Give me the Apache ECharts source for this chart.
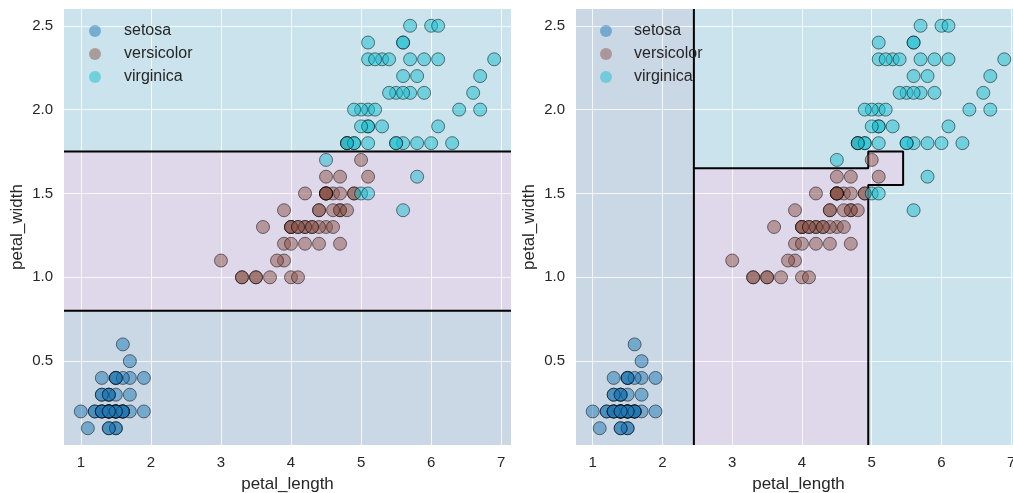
<!DOCTYPE html>
<html>
<head>
<meta charset="utf-8">
<script src="https://cdn.jsdelivr.net/npm/echarts@6/dist/echarts.min.js"></script>
<style>
html,body{margin:0;padding:0;background:#fff;}
#chart{width:1013px;height:493px;}
</style>
</head>
<body>
<div id="chart"></div>
<script>
// ---- data (iris: petal_length, petal_width) ----
var species = ['setosa', 'versicolor', 'virginica'];
var setosaLength = [1.4,1.4,1.3,1.5,1.4,1.7,1.4,1.5,1.4,1.5,1.5,1.6,1.4,1.1,1.2,1.5,1.3,1.4,1.7,1.5,1.7,1.5,1.0,1.7,1.9,1.6,1.6,1.5,1.4,1.6,1.6,1.5,1.5,1.4,1.5,1.2,1.3,1.4,1.3,1.5,1.3,1.3,1.3,1.6,1.9,1.4,1.6,1.4,1.5,1.4];
var setosaWidth  = [0.2,0.2,0.2,0.2,0.2,0.4,0.3,0.2,0.2,0.1,0.2,0.2,0.1,0.1,0.2,0.4,0.4,0.3,0.3,0.3,0.2,0.4,0.2,0.5,0.2,0.2,0.4,0.2,0.2,0.2,0.2,0.4,0.1,0.2,0.2,0.2,0.2,0.1,0.2,0.2,0.3,0.3,0.2,0.6,0.4,0.3,0.2,0.2,0.2,0.2];
var versicolorLength = [4.7,4.5,4.9,4.0,4.6,4.5,4.7,3.3,4.6,3.9,3.5,4.2,4.0,4.7,3.6,4.4,4.5,4.1,4.5,3.9,4.8,4.0,4.9,4.7,4.3,4.4,4.8,5.0,4.5,3.5,3.8,3.7,3.9,5.1,4.5,4.5,4.7,4.4,4.1,4.0,4.4,4.6,4.0,3.3,4.2,4.2,4.2,4.3,3.0,4.1];
var versicolorWidth  = [1.4,1.5,1.5,1.3,1.5,1.3,1.6,1.0,1.3,1.4,1.0,1.5,1.0,1.4,1.3,1.4,1.5,1.0,1.5,1.1,1.8,1.3,1.5,1.2,1.3,1.4,1.4,1.7,1.5,1.0,1.1,1.0,1.2,1.6,1.5,1.6,1.5,1.3,1.3,1.3,1.2,1.4,1.2,1.0,1.3,1.2,1.3,1.3,1.1,1.3];
var virginicaLength = [6.0,5.1,5.9,5.6,5.8,6.6,4.5,6.3,5.8,6.1,5.1,5.3,5.5,5.0,5.1,5.3,5.5,6.7,6.9,5.0,5.7,4.9,6.7,4.9,5.7,6.0,4.8,4.9,5.6,5.8,6.1,6.4,5.6,5.1,5.6,6.1,5.6,5.5,4.8,5.4,5.6,5.1,5.1,5.9,5.7,5.2,5.0,5.2,5.4,5.1];
var virginicaWidth  = [2.5,1.9,2.1,1.8,2.2,2.1,1.7,1.8,1.8,2.5,2.0,1.9,2.1,2.0,2.4,2.3,1.8,2.2,2.3,1.5,2.3,2.0,2.0,1.8,2.1,1.8,1.8,1.8,2.1,1.6,1.9,2.0,2.2,1.5,1.4,2.3,2.4,1.8,1.8,2.1,2.4,2.3,1.9,2.3,2.5,2.3,1.9,2.0,2.3,1.8];

// axis ranges and tick labels
var xRange = [0.76, 7.14];
var yRange = [0.0, 2.6];
var xTickLabels = [1, 2, 3, 4, 5, 6, 7];
var yTickLabels = [0.5, 1.0, 1.5, 2.0, 2.5];

// decision regions: [x0, y0, x1, y1, class]
var leftRegions = [
  [0.76, 0.0, 7.14, 0.8, 'setosa'],
  [0.76, 0.8, 7.14, 1.75, 'versicolor'],
  [0.76, 1.75, 7.14, 2.6, 'virginica']
];
var rightRegions = [
  [0.76, 0.0, 7.14, 2.6, 'virginica'],
  [0.76, 0.0, 2.45, 2.6, 'setosa'],
  [2.45, 0.0, 4.95, 1.65, 'versicolor'],
  [4.95, 1.55, 5.45, 1.75, 'versicolor']
];
// decision boundary polylines
var leftBoundaries = [
  [[0.76, 0.8], [7.14, 0.8]],
  [[0.76, 1.75], [7.14, 1.75]]
];
var rightBoundaries = [
  [[2.45, 0.0], [2.45, 2.6]],
  [[2.45, 1.65], [4.95, 1.65], [4.95, 1.75], [5.45, 1.75], [5.45, 1.55], [4.95, 1.55], [4.95, 0.0]]
];

// ---- styling ----
var pointColors = {setosa: '#1f77b4', versicolor: '#8c564b', virginica: '#17becf'};
var regionColors = {setosa: '#cad8e6', versicolor: '#dfd7ea', virginica: '#cbe3ec'};
var textColor = '#262626';
var fontFamily = '"Liberation Sans", Arial, "DejaVu Sans", sans-serif';

function zip(a, b) { return a.map(function (v, i) { return [v, b[i]]; }); }
var pts = {
  setosa: zip(setosaLength, setosaWidth),
  versicolor: zip(versicolorLength, versicolorWidth),
  virginica: zip(virginicaLength, virginicaWidth)
};

var grids = [
  {left: 64, top: 9, width: 447, height: 436, outerBoundsMode: 'none', containLabel: false},
  {left: 576, top: 9, width: 445, height: 436, outerBoundsMode: 'none', containLabel: false}
];

var splitStyle = {show: true, lineStyle: {color: 'rgba(255,255,255,0.8)', width: 1}};

function xAxisFor(i) {
  return {
    gridIndex: i, type: 'value', min: xRange[0], max: xRange[1], splitNumber: 6,
    name: 'petal_length', nameLocation: 'middle', nameGap: 31,
    nameTextStyle: {color: textColor, fontSize: 17, fontFamily: fontFamily},
    axisLine: {show: false},
    axisTick: {show: false, customValues: xTickLabels},
    axisLabel: {color: textColor, fontSize: 15, fontFamily: fontFamily, margin: 10,
      customValues: xTickLabels,
      formatter: function (v) { return String(Math.round(v)); }},
    splitLine: splitStyle,
    z: 0
  };
}
function yAxisFor(i) {
  return {
    gridIndex: i, type: 'value', min: yRange[0], max: yRange[1], splitNumber: 6,
    name: 'petal_width', nameLocation: 'middle', nameGap: 38,
    nameTextStyle: {color: textColor, fontSize: 17, fontFamily: fontFamily},
    axisLine: {show: false},
    axisTick: {show: false, customValues: yTickLabels},
    axisLabel: {color: textColor, fontSize: 15, fontFamily: fontFamily, margin: 11,
      customValues: yTickLabels,
      formatter: function (v) { return v.toFixed(1); }},
    splitLine: splitStyle,
    z: 0
  };
}

var series = [];
function addPanel(i, regions, bounds) {
  // regions (behind grid lines)
  series.push({
    type: 'scatter', xAxisIndex: i, yAxisIndex: i, data: [], z: -5, silent: true,
    markArea: {
      silent: true, z: -5,
      data: regions.map(function (r) {
        return [
          {coord: [r[0], r[1]], itemStyle: {color: regionColors[r[4]], opacity: 1, borderWidth: 0}},
          {coord: [r[2], r[3]]}
        ];
      })
    }
  });
  // boundaries
  bounds.forEach(function (b) {
    series.push({
      type: 'line', xAxisIndex: i, yAxisIndex: i, data: b, symbol: 'none', z: 1,
      silent: true, animation: false,
      lineStyle: {color: '#000', width: 2}
    });
  });
  // points
  species.forEach(function (s) {
    series.push({
      name: s, type: 'scatter', xAxisIndex: i, yAxisIndex: i, data: pts[s],
      symbol: 'circle', symbolSize: 13, z: 2,
      itemStyle: {color: pointColors[s], opacity: 0.5, borderColor: '#000', borderWidth: 1}
    });
  });
}
addPanel(0, leftRegions, leftBoundaries);
addPanel(1, rightRegions, rightBoundaries);

function legendFor(left, pad) {
  return {
    data: species, orient: 'vertical', left: left, top: 23, padding: 0,
    icon: 'circle', itemWidth: 12, itemHeight: 12, itemGap: 7,
    itemStyle: {borderWidth: 0},
    textStyle: {color: textColor, fontSize: 16, fontFamily: fontFamily, padding: [0, 0, 0, pad], lineHeight: 16},
    selectedMode: false
  };
}

var chart = echarts.init(document.getElementById('chart'), null, {renderer: 'canvas'});
chart.setOption({
  animation: false,
  backgroundColor: '#ffffff',
  grid: grids,
  xAxis: [xAxisFor(0), xAxisFor(1)],
  yAxis: [yAxisFor(0), yAxisFor(1)],
  legend: [legendFor(89, 18), legendFor(600, 17)],
  series: series
});
</script>
</body>
</html>
